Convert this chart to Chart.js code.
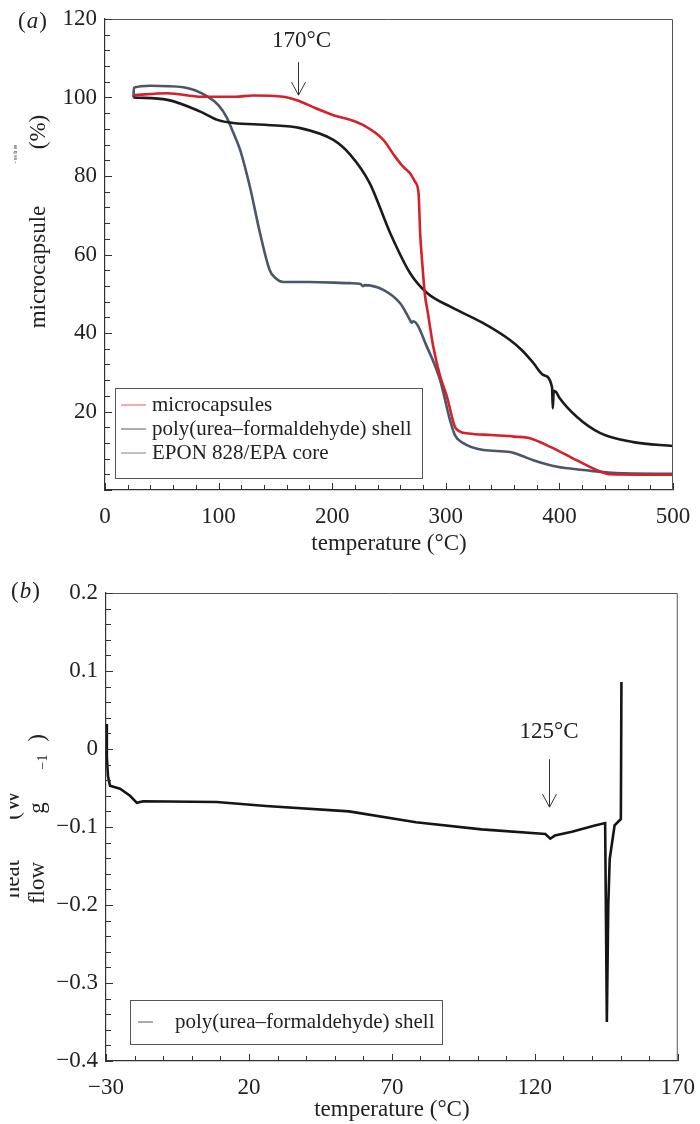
<!DOCTYPE html>
<html lang="en">
  <head>
    <meta charset="UTF-8" />
    <title>TGA and DSC of microcapsules</title>
    <script src="https://cdn.jsdelivr.net/npm/chart.js"></script>
    <style>
      body {
        margin: 0;
        background: #fff;
      }
      .panel {
        position: absolute;
        left: 0;
        width: 700px;
      }
      #panelA {
        top: 0;
        height: 560px;
      }
      #panelB {
        top: 560px;
        height: 564px;
      }
    </style>
  </head>
  <body>
    <div class="panel" id="panelA">
      <canvas id="tgaChart" width="700" height="560"></canvas>
    </div>
    <div class="panel" id="panelB">
      <canvas id="dscChart" width="700" height="564"></canvas>
    </div>

    <script>
      const SERIF = "'Liberation Serif', 'Times New Roman', serif";

      // (a) TGA – temperature (°C) vs microcapsule mass (%)
      const tgaLabels = [
        "microcapsules",
        "poly(urea\u2013formaldehyde) shell",
        "EPON 828/EPA core",
      ];
      const capsTemp = [25, 55, 85, 115, 130, 157, 169, 186, 201, 216, 227, 245, 254, 262, 268.5, 273, 276, 277.5, 279.5, 281.5, 284, 289, 295, 301, 308, 312.5, 320, 340, 360, 374, 392, 415, 436, 445, 470, 500];
      const capsMass = [100.6, 101.1, 100.2, 100.2, 100.5, 100.2, 99.3, 97.2, 95.5, 94.3, 93, 89.2, 85.5, 82.5, 80.7, 78.5, 75.6, 65, 57, 50, 45.5, 36.5, 29, 23.8, 16.1, 14.9, 14.4, 14, 13.6, 13.2, 11, 7.6, 4.7, 4, 3.9, 3.9];
      const shellTemp = [25, 55, 84, 99, 113, 143, 172, 201, 216, 233, 251, 268.5, 283.5, 304, 333, 356.5, 367, 377, 386, 393.5, 394.2, 395, 397, 400, 415.5, 436, 465, 500];
      const shellMass = [100, 99.4, 96.4, 94.3, 93.5, 93, 92.2, 89.2, 85.4, 78.2, 65.5, 55.3, 50.2, 46.7, 42.5, 38.2, 35.6, 32.4, 29.3, 26.2, 20.8, 25.3, 25, 23.5, 18.6, 14.5, 12.2, 11.2];
      const coreTemp = [25, 25.5, 40, 69, 90, 100, 107, 113, 119, 127.6, 136.4, 145, 150, 157, 180, 216, 225, 227, 228.5, 245, 260, 268.5, 270, 271.5, 283.5, 295, 303.7, 308, 315, 333, 356.5, 366, 377, 398, 421, 450, 500];
      const coreMass = [100, 102.5, 103, 102.6, 100.3, 98, 95, 91, 86.6, 77.2, 65.5, 56, 54, 53, 53, 52.7, 52.5, 51.9, 52.2, 51, 47.5, 43.3, 42.6, 43, 36.4, 28, 17.8, 14, 12, 10.2, 9.7, 8.8, 7.6, 5.9, 5.1, 4.3, 4.1];

      // (b) DSC – temperature (°C) vs heat flow (W g-1)
      const dscLabel = "poly(urea\u2013formaldehyde) shell";
      const dscTemp = [-30, -29.7, -29.3, -28.6, -25.1, -21.6, -19.2, -17, 8.7, 26, 55, 78.4, 101.4, 123.7, 125.4, 127, 133, 141, 144.6, 145.2, 145.7, 146.2, 147.9, 149.5, 150.1, 150.3];
      const dscFlow = [0.032, -0.01, -0.035, -0.047, -0.051, -0.06, -0.069, -0.067, -0.068, -0.073, -0.08, -0.094, -0.103, -0.109, -0.115, -0.111, -0.106, -0.098, -0.095, -0.35, -0.2, -0.141, -0.098, -0.092, -0.09, 0.086];

      function toPoints(xs, ys) {
        return xs.map((x, i) => ({ x: x, y: ys[i] }));
      }

      function serif(size, italic) {
        return (italic ? "italic " : "") + size + "px " + SERIF;
      }

      // box, inward ticks
      const framePlugin = {
        id: "frame",
        afterDatasetsDraw(chart, args, opts) {
          const { ctx, chartArea: a } = chart;
          const x = chart.scales.x;
          const y = chart.scales.y;
          ctx.save();
          ctx.strokeStyle = "#555";
          ctx.lineWidth = 1;
          ctx.beginPath();
          ctx.moveTo(a.left, a.top + 0.5);
          ctx.lineTo(a.right - 0.5, a.top + 0.5);
          ctx.lineTo(a.right - 0.5, a.bottom);
          ctx.stroke();

          ctx.strokeStyle = "#333";
          ctx.beginPath();
          let n = Math.round((x.max - x.min) / opts.xMinor);
          for (let i = 0; i <= n; i++) {
            const px = Math.round(x.getPixelForValue(x.min + i * opts.xMinor)) + 0.5;
            const len = i % 5 === 0 ? 7 : 5;
            ctx.moveTo(px, a.bottom);
            ctx.lineTo(px, a.bottom - len);
          }
          n = Math.round((y.max - y.min) / opts.yMinor);
          for (let i = 0; i <= n; i++) {
            const py = Math.round(y.getPixelForValue(y.min + i * opts.yMinor)) + 0.5;
            const len = i % 5 === 0 ? 7 : 5;
            ctx.moveTo(a.left, py);
            ctx.lineTo(a.left + len, py);
          }
          ctx.stroke();
          ctx.restore();
        },
      };

      // legend box inside the plot
      const boxLegendPlugin = {
        id: "boxLegend",
        afterDraw(chart, args, opts) {
          const ctx = chart.ctx;
          ctx.save();
          ctx.strokeStyle = "#555";
          ctx.lineWidth = 1;
          ctx.fillStyle = "#fff";
          ctx.fillRect(opts.left, opts.top, opts.width, opts.height);
          ctx.strokeRect(opts.left + 0.5, opts.top + 0.5, opts.width, opts.height);
          ctx.font = serif(21);
          ctx.textBaseline = "middle";
          chart.data.datasets.forEach((ds, i) => {
            const cy = opts.firstRow + i * opts.rowStep;
            ctx.globalAlpha = 0.6;
            ctx.strokeStyle = ds.borderColor;
            ctx.lineWidth = 1.2;
            ctx.beginPath();
            ctx.moveTo(opts.lineFrom, cy);
            ctx.lineTo(opts.lineTo, cy);
            ctx.stroke();
            ctx.globalAlpha = 1;
            ctx.fillStyle = "#222";
            ctx.fillText(ds.label, opts.textX, cy);
          });
          ctx.restore();
        },
      };

      // arrows, panel tag and the y axis title pieces
      const notesPlugin = {
        id: "notes",
        afterDraw(chart, args, opts) {
          const ctx = chart.ctx;
          const x = chart.scales.x;
          const y = chart.scales.y;
          ctx.save();
          ctx.fillStyle = "#222";
          ctx.strokeStyle = "#333";
          ctx.lineWidth = 1;

          // arrow with label
          const ar = opts.arrow;
          const ax = Math.round(x.getPixelForValue(ar.x)) + 0.5;
          const y0 = y.getPixelForValue(ar.top);
          const y1 = y.getPixelForValue(ar.tip);
          ctx.beginPath();
          ctx.moveTo(ax, y0);
          ctx.lineTo(ax, y1);
          ctx.moveTo(ax - 7, y1 - 13);
          ctx.lineTo(ax, y1);
          ctx.lineTo(ax + 7, y1 - 13);
          ctx.stroke();
          ctx.font = serif(23);
          ctx.textAlign = "center";
          ctx.textBaseline = "middle";
          ctx.fillText(ar.text, x.getPixelForValue(ar.textX), y.getPixelForValue(ar.textY));

          // panel tag like (a)
          const tg = opts.tag;
          ctx.textAlign = "left";
          ctx.textBaseline = "alphabetic";
          let tx = tg.x;
          ctx.font = serif(23);
          ctx.fillText("(", tx, tg.y);
          tx += ctx.measureText("(").width + 1;
          ctx.font = serif(23, true);
          ctx.fillText(tg.letter, tx, tg.y);
          tx += ctx.measureText(tg.letter).width + 1;
          ctx.font = serif(23);
          ctx.fillText(")", tx, tg.y);

          // rotated y title pieces
          opts.yTitle.forEach((p) => {
            ctx.save();
            if (p.clip) {
              ctx.beginPath();
              ctx.rect(p.clip, 0, 200, chart.height);
              ctx.clip();
            }
            ctx.translate(p.x, p.y);
            ctx.rotate(-Math.PI / 2);
            ctx.font = serif(p.size);
            ctx.textAlign = "center";
            ctx.textBaseline = "alphabetic";
            ctx.fillText(p.text, 0, 0);
            ctx.restore();
          });
          ctx.restore();
        },
      };

      const tickFont = { family: SERIF, size: 23 };

      new Chart(document.getElementById("tgaChart"), {
        type: "line",
        data: {
          datasets: [
            { label: tgaLabels[0], data: toPoints(capsTemp, capsMass), borderColor: "#d6202a" },
            { label: tgaLabels[1], data: toPoints(shellTemp, shellMass), borderColor: "#1b1b1b" },
            { label: tgaLabels[2], data: toPoints(coreTemp, coreMass), borderColor: "#4a5669" },
          ].map((d) => Object.assign(d, { borderWidth: 2.6, pointRadius: 0, cubicInterpolationMode: "monotone" })),
        },
        options: {
          responsive: false,
          animation: false,
          layout: { padding: { top: 19, right: 27, left: 0, bottom: 0 } },
          plugins: {
            legend: { display: false },
            tooltip: { enabled: false },
            frame: { xMinor: 20, yMinor: 4 },
            boxLegend: { left: 115, top: 388, width: 307, height: 90, firstRow: 405, rowStep: 24, lineFrom: 121, lineTo: 146, textX: 152 },
            notes: {
              arrow: { x: 170, top: 109, tip: 100.6, text: "170\u00b0C", textX: 173, textY: 114.3 },
              tag: { x: 18, y: 28, letter: "a" },
              yTitle: [
                { text: "microcapsule", x: 45, y: 267, size: 23 },
                { text: "(%)", x: 45, y: 132, size: 23 },
                { text: "- ss b ss", x: 17, y: 154, size: 6 },
              ],
            },
          },
          scales: {
            x: {
              type: "linear",
              min: 0,
              max: 500,
              ticks: { stepSize: 100, font: tickFont, color: "#222", padding: 5, maxRotation: 0, autoSkip: false },
              grid: { display: false },
              border: { color: "#333", width: 1.2 },
              title: { display: true, text: "temperature (\u00b0C)", font: tickFont, color: "#222", padding: { top: 0, bottom: 2 } },
              afterFit: (s) => { s.height = 70; },
            },
            y: {
              min: 0,
              max: 120,
              ticks: { stepSize: 20, font: tickFont, color: "#222", padding: 0, callback: (v) => (v === 0 ? "" : v) },
              grid: { display: false },
              border: { color: "#333", width: 1.2 },
              afterFit: (s) => { s.width = 105; },
            },
          },
        },
        plugins: [framePlugin, boxLegendPlugin, notesPlugin],
      });

      function signed(v, digits) {
        const r = Number(v.toFixed(digits));
        if (r === 0) return "0";
        return (r < 0 ? "\u2212" : "") + Math.abs(r).toFixed(digits);
      }

      new Chart(document.getElementById("dscChart"), {
        type: "line",
        data: {
          datasets: [
            { label: dscLabel, data: toPoints(dscTemp, dscFlow), borderColor: "#151515", borderWidth: 2.6, pointRadius: 0, tension: 0 },
          ],
        },
        options: {
          responsive: false,
          animation: false,
          layout: { padding: { top: 33, right: 20, left: 0, bottom: 0 } },
          plugins: {
            legend: { display: false },
            tooltip: { enabled: false },
            frame: { xMinor: 10, yMinor: 0.02 },
            boxLegend: { left: 130, top: 440, width: 312, height: 44, firstRow: 462, rowStep: 24, lineFrom: 138, lineTo: 153, textX: 175 },
            notes: {
              arrow: { x: 125, top: -0.013, tip: -0.0745, text: "125\u00b0C", textX: 125, textY: 0.022 },
              tag: { x: 11, y: 38, letter: "b" },
              yTitle: [
                { text: "heat", x: 19, y: 319, size: 23, clip: 10 },
                { text: "(W", x: 19, y: 245, size: 23, clip: 10 },
                { text: "flow", x: 44, y: 323, size: 23 },
                { text: "g", x: 44, y: 248, size: 23 },
                { text: "\u22121", x: 47, y: 202, size: 14 },
                { text: ")", x: 44, y: 178, size: 23 },
              ],
            },
          },
          scales: {
            x: {
              type: "linear",
              min: -30,
              max: 170,
              ticks: { stepSize: 50, font: tickFont, color: "#222", padding: 5, maxRotation: 0, autoSkip: false, callback: (v) => signed(v, 0) },
              grid: { display: false },
              border: { color: "#333", width: 1.2 },
              title: { display: true, text: "temperature (\u00b0C)", font: tickFont, color: "#222", padding: { top: 0, bottom: 0 } },
              afterFit: (s) => { s.height = 63; },
            },
            y: {
              min: -0.4,
              max: 0.2,
              ticks: { stepSize: 0.1, font: tickFont, color: "#222", padding: 0, callback: (v) => signed(v, Math.abs(v) < 1e-9 ? 0 : 1) },
              grid: { display: false },
              border: { color: "#333", width: 1.2 },
              afterFit: (s) => { s.width = 106; },
            },
          },
        },
        plugins: [framePlugin, boxLegendPlugin, notesPlugin],
      });
    </script>
  </body>
</html>
